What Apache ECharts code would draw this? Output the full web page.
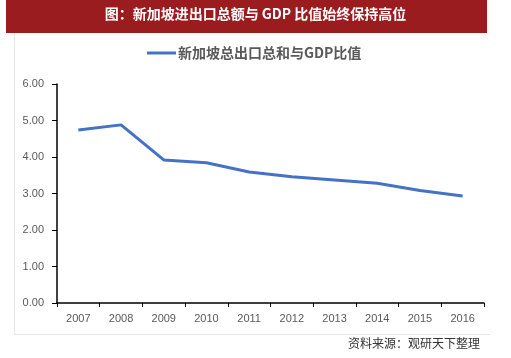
<!DOCTYPE html>
<html><head><meta charset="utf-8">
<script src="https://cdn.jsdelivr.net/npm/echarts@6/dist/echarts.min.js"></script>
<style>html,body{margin:0;padding:0;background:#fff}#c{width:511px;height:358px}</style>
</head><body><div id="c"></div>
<script>
var years = ['2007','2008','2009','2010','2011','2012','2013','2014','2015','2016'];
var ratio = [4.74, 4.88, 3.92, 3.84, 3.59, 3.46, 3.37, 3.28, 3.08, 2.93];
var seriesName = '新加坡总出口总和与GDP比值';
var chartTitle = '图：新加坡进出口总额与 GDP 比值始终保持高位';
var sourceText = '资料来源：观研天下整理';

var chart = echarts.init(document.getElementById('c'), null, {renderer:'canvas'});
chart.setOption({
  animation: false,
  backgroundColor: '#fff',
  graphic: [
    {type:'rect', z:0, shape:{x:6, y:0, width:481, height:33}, style:{fill:'#9B1C1F'}},
    {type:'line', z:0, shape:{x1:14.5, y1:33, x2:14.5, y2:334}, style:{stroke:'#e6e6e6', lineWidth:1}},
    {type:'line', z:0, shape:{x1:14, y1:334.5, x2:490, y2:334.5}, style:{stroke:'#e6e6e6', lineWidth:1}},
    {type:'text', z:5, right:31, top:337, style:{text:sourceText, fill:'#333', font:'12px "Noto Sans CJK SC"'}}
  ],
  title: {
    text: chartTitle, left: 'center', top: 7, itemGap: 0, padding: 0,
    textStyle: {color:'#fff', fontSize:14, fontWeight:'bold', fontFamily:'"Noto Sans CJK SC"'}
  },
  legend: {
    data: [seriesName], top: 46, left: 147, padding: 0, itemWidth: 29, itemHeight: 3, itemGap: 2,
    icon: 'rect',
    textStyle: {color:'#595959', fontSize:14, fontWeight:'bold', fontFamily:'"Noto Sans CJK SC"', padding:[0,0,0,-3]}
  },
  grid: {left:57, right:27, top:84, bottom:55, containLabel:false},
  xAxis: {
    type:'category', data: years, boundaryGap: true,
    axisLine: {show:true, lineStyle:{color:'#000', width:1.5}},
    axisTick: {show:true, length:4, lineStyle:{color:'#000'}},
    axisLabel: {color:'#595959', fontSize:11, margin:10, fontFamily:'"Liberation Sans", sans-serif'},
    splitLine: {show:false}
  },
  yAxis: {
    type:'value', min:0, max:6, interval:1,
    axisLine: {show:true, lineStyle:{color:'#000', width:1.5}},
    axisTick: {show:true, length:5, lineStyle:{color:'#000'}},
    axisLabel: {color:'#595959', fontSize:11, margin:13, formatter:function(v){return v.toFixed(2);}, fontFamily:'"Liberation Sans", sans-serif'},
    splitLine: {show:false}
  },
  series: [{
    name: seriesName, type:'line', data: ratio, symbol:'none', smooth:false,
    lineStyle:{color:'#4472C4', width:3}, itemStyle:{color:'#4472C4'}
  }]
});
</script></body></html>
